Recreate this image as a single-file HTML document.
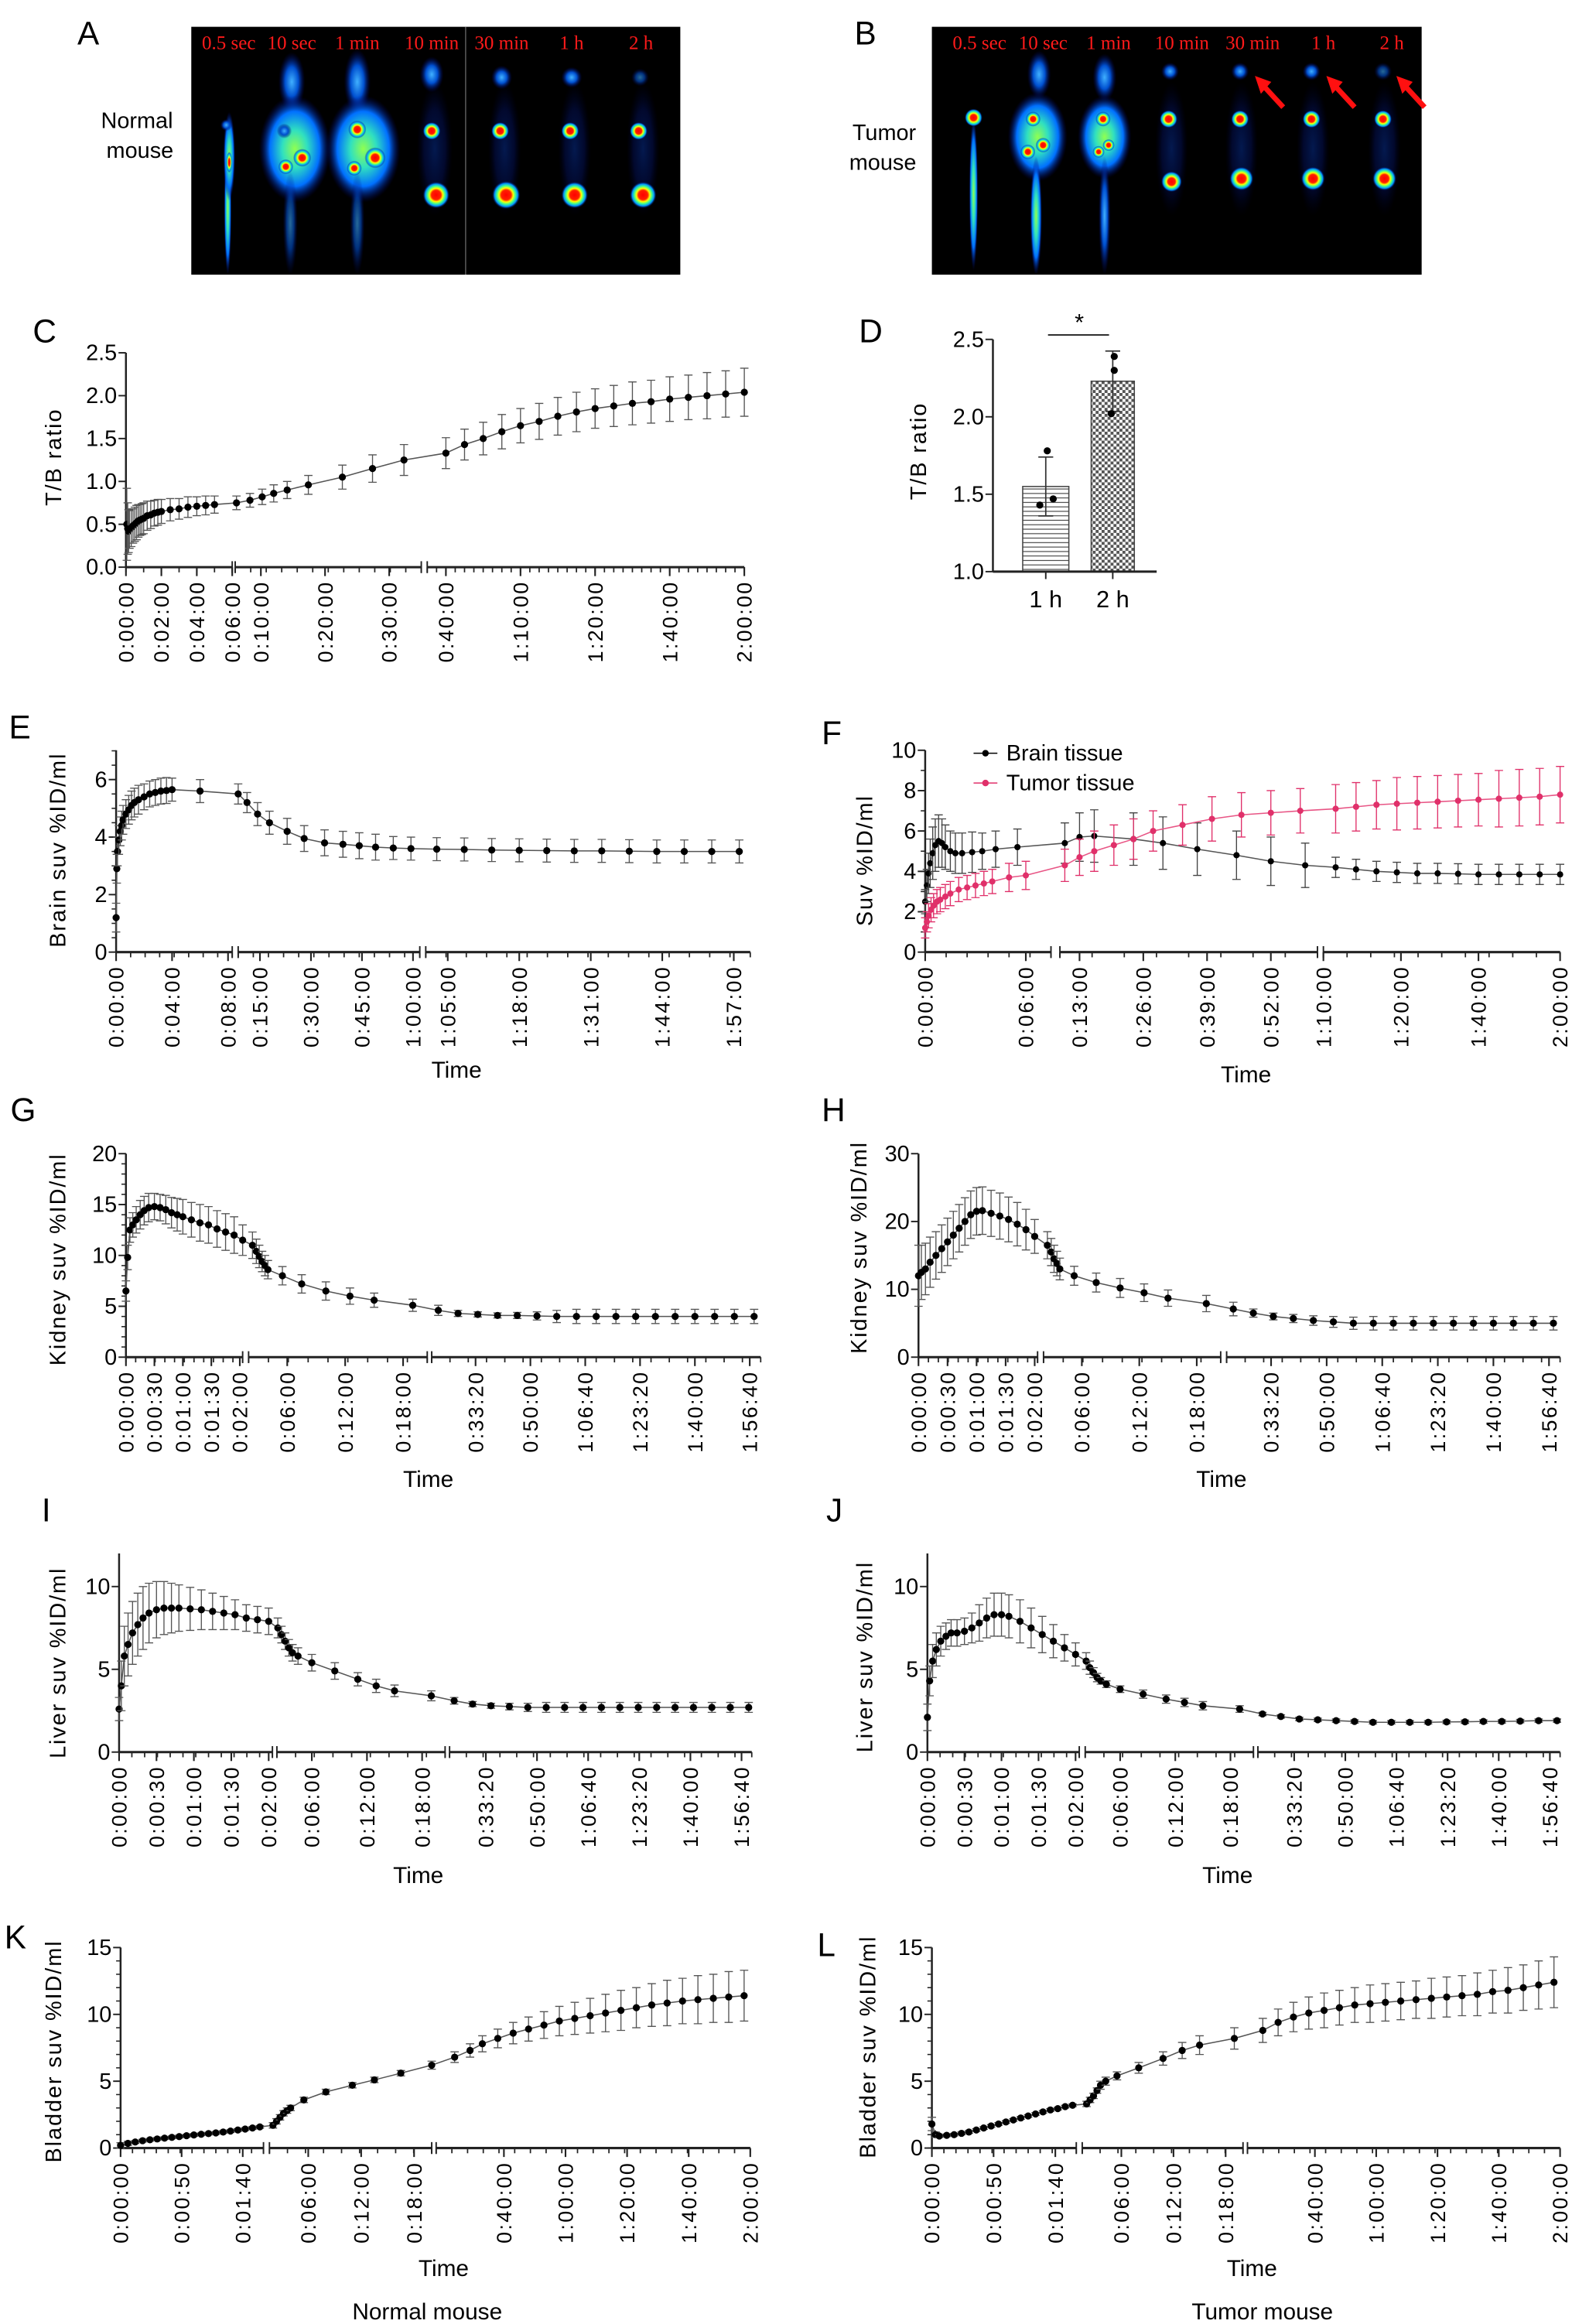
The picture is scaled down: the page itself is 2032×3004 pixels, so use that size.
<!DOCTYPE html>
<html><head><meta charset="utf-8">
<style>
html,body{margin:0;padding:0;background:#fff;}
svg{display:block;}
text{font-family:"Liberation Sans",sans-serif;}
.nar{font-family:"Liberation Sans Narrow","Liberation Sans",sans-serif;}
.red{font-family:"Liberation Serif",serif;fill:#ff1a1a;font-size:13px;}
</style></head>
<body>
<svg id="fig" xmlns="http://www.w3.org/2000/svg" width="2032" height="3004" viewBox="0 0 1056 1561.2" preserveAspectRatio="none">
<defs>
<radialGradient id="hot"><stop offset="0" stop-color="#ff0000"/><stop offset="0.35" stop-color="#ff2000"/><stop offset="0.5" stop-color="#ffff00"/><stop offset="0.65" stop-color="#40ff90"/><stop offset="0.82" stop-color="#0090ff"/><stop offset="1" stop-color="#000050" stop-opacity="0"/></radialGradient>
<radialGradient id="glow"><stop offset="0" stop-color="#40b0ff"/><stop offset="0.5" stop-color="#0050d0"/><stop offset="1" stop-color="#000060" stop-opacity="0"/></radialGradient>
<radialGradient id="faint"><stop offset="0" stop-color="#0838b0" stop-opacity="0.45"/><stop offset="0.6" stop-color="#041880" stop-opacity="0.35"/><stop offset="1" stop-color="#000040" stop-opacity="0"/></radialGradient>
<radialGradient id="body"><stop offset="0" stop-color="#90ff50"/><stop offset="0.35" stop-color="#30e0c0"/><stop offset="0.7" stop-color="#0070ff"/><stop offset="1" stop-color="#000070" stop-opacity="0"/></radialGradient>
<pattern id="hatchH" width="4" height="3" patternUnits="userSpaceOnUse"><rect width="4" height="3" fill="#fff"/><line x1="0" y1="1.5" x2="4" y2="1.5" stroke="#444" stroke-width="0.6"/></pattern>
<pattern id="checker" width="4" height="4" patternUnits="userSpaceOnUse"><rect width="4" height="4" fill="#fff"/><rect width="2" height="2" fill="#555"/><rect x="2" y="2" width="2" height="2" fill="#555"/></pattern>
</defs>

<!-- Panel A -->
<g>
<text x="52" y="30" font-size="22">A</text>
<text x="92" y="86" font-size="15" text-anchor="middle">Normal</text>
<text x="94" y="106" font-size="15" text-anchor="middle">mouse</text>
<rect x="128.5" y="18" width="328.5" height="166.5" fill="#000"/>
<line x1="312.8" y1="18" x2="312.8" y2="184.5" stroke="#777" stroke-width="0.6"/>
<g>
<ellipse cx="153" cy="140" rx="2.5" ry="45" fill="url(#body)"/>
<ellipse cx="154" cy="105" rx="4" ry="30" fill="url(#body)"/>
<ellipse cx="154" cy="109" rx="2" ry="7" fill="url(#hot)"/>
<ellipse cx="152" cy="84" rx="4" ry="4" fill="url(#glow)"/>
<ellipse cx="196" cy="55" rx="9" ry="20" fill="url(#glow)"/>
<ellipse cx="198" cy="100" rx="24" ry="36" fill="url(#body)"/>
<ellipse cx="195" cy="150" rx="5" ry="35" fill="url(#glow)" opacity="0.6"/>
<circle cx="192" cy="112" r="5" fill="url(#hot)"/><circle cx="203" cy="106" r="6" fill="url(#hot)"/><circle cx="191" cy="88" r="5" fill="url(#glow)"/>
<ellipse cx="240" cy="55" rx="9" ry="22" fill="url(#glow)"/>
<ellipse cx="244" cy="100" rx="25" ry="36" fill="url(#body)"/>
<ellipse cx="240" cy="150" rx="5" ry="35" fill="url(#glow)" opacity="0.6"/>
<circle cx="240" cy="87" r="6" fill="url(#hot)"/><circle cx="252" cy="106" r="7" fill="url(#hot)"/><circle cx="238" cy="113" r="5" fill="url(#hot)"/>
<ellipse cx="290" cy="50" rx="8" ry="12" fill="url(#glow)"/><ellipse cx="292" cy="100" rx="12" ry="45" fill="url(#faint)"/>
<circle cx="290" cy="88" r="6" fill="url(#hot)"/><circle cx="293" cy="131" r="9" fill="url(#hot)"/>
<ellipse cx="337" cy="52" rx="7" ry="8" fill="url(#glow)"/><ellipse cx="339" cy="100" rx="11" ry="45" fill="url(#faint)"/>
<circle cx="336" cy="88" r="6" fill="url(#hot)"/><circle cx="340" cy="131" r="9.5" fill="url(#hot)"/>
<ellipse cx="384" cy="52" rx="7" ry="7" fill="url(#glow)"/><ellipse cx="386" cy="100" rx="11" ry="45" fill="url(#faint)"/>
<circle cx="383" cy="88" r="6" fill="url(#hot)"/><circle cx="386" cy="131" r="9" fill="url(#hot)"/>
<ellipse cx="430" cy="52" rx="6" ry="6" fill="url(#glow)" opacity="0.6"/><ellipse cx="432" cy="100" rx="11" ry="45" fill="url(#faint)"/>
<circle cx="429" cy="88" r="6" fill="url(#hot)"/><circle cx="432" cy="131" r="9" fill="url(#hot)"/>
</g>
<g text-anchor="middle">
<text class="red" x="153.7" y="33">0.5 sec</text><text class="red" x="196" y="33">10 sec</text><text class="red" x="240" y="33">1 min</text><text class="red" x="290" y="33">10 min</text><text class="red" x="337" y="33">30 min</text><text class="red" x="384" y="33">1 h</text><text class="red" x="430.6" y="33">2 h</text>
</g>
</g>

<!-- Panel B -->
<g>
<text x="574" y="30" font-size="22">B</text>
<text x="594" y="94" font-size="15" text-anchor="middle">Tumor</text>
<text x="593" y="114" font-size="15" text-anchor="middle">mouse</text>
<rect x="626" y="18" width="329" height="166.5" fill="#000"/>
<g>
<ellipse cx="654" cy="130" rx="3" ry="52" fill="url(#body)"/>
<circle cx="654" cy="79" r="6" fill="url(#hot)"/>
<ellipse cx="698" cy="50" rx="8" ry="16" fill="url(#glow)"/><ellipse cx="697" cy="92" rx="20" ry="30" fill="url(#body)"/>
<ellipse cx="696" cy="145" rx="4" ry="40" fill="url(#body)"/>
<circle cx="694" cy="80" r="5" fill="url(#hot)"/><circle cx="690.5" cy="102" r="5" fill="url(#hot)"/><circle cx="700.7" cy="97.5" r="5" fill="url(#hot)"/>
<ellipse cx="742" cy="52" rx="8" ry="16" fill="url(#glow)"/><ellipse cx="742" cy="92" rx="18" ry="28" fill="url(#body)"/>
<ellipse cx="742" cy="145" rx="4" ry="40" fill="url(#glow)"/>
<circle cx="741" cy="80" r="5" fill="url(#hot)"/><circle cx="744.7" cy="97.5" r="4" fill="url(#hot)"/><circle cx="738" cy="102" r="4" fill="url(#hot)"/>
<ellipse cx="786" cy="48" rx="6" ry="6" fill="url(#glow)"/><ellipse cx="787" cy="100" rx="11" ry="45" fill="url(#faint)"/>
<circle cx="785" cy="80" r="6" fill="url(#hot)"/><circle cx="787" cy="122" r="7" fill="url(#hot)"/>
<ellipse cx="833" cy="48" rx="6" ry="6" fill="url(#glow)"/><ellipse cx="834" cy="100" rx="11" ry="45" fill="url(#faint)"/>
<circle cx="833" cy="80" r="6" fill="url(#hot)"/><circle cx="834" cy="120" r="8" fill="url(#hot)"/>
<ellipse cx="881" cy="48" rx="6" ry="6" fill="url(#glow)"/><ellipse cx="882" cy="100" rx="11" ry="45" fill="url(#faint)"/>
<circle cx="881" cy="80" r="6" fill="url(#hot)"/><circle cx="882" cy="120" r="8" fill="url(#hot)"/>
<ellipse cx="929" cy="48" rx="6" ry="6" fill="url(#glow)" opacity="0.6"/><ellipse cx="930" cy="100" rx="11" ry="45" fill="url(#faint)"/>
<circle cx="929" cy="80" r="6" fill="url(#hot)"/><circle cx="930" cy="120" r="8" fill="url(#hot)"/>
</g>
<g stroke="#ff1010" stroke-width="3.5" fill="#ff1010">
<line x1="850" y1="59" x2="862" y2="72"/><polygon points="843,51 854,55 847,63" stroke="none"/>
<line x1="898" y1="59" x2="910" y2="72"/><polygon points="891,51 902,55 895,63" stroke="none"/>
<line x1="945" y1="59" x2="957" y2="72"/><polygon points="938,51 949,55 942,63" stroke="none"/>
</g>
<g text-anchor="middle">
<text class="red" x="658" y="33">0.5 sec</text><text class="red" x="700.7" y="33">10 sec</text><text class="red" x="744.7" y="33">1 min</text><text class="red" x="794" y="33">10 min</text><text class="red" x="841.5" y="33">30 min</text><text class="red" x="889" y="33">1 h</text><text class="red" x="935" y="33">2 h</text>
</g>
</g>

<!-- Static labels -->
<text x="22" y="230" font-size="22">C</text>
<text x="577" y="230" font-size="22">D</text>
<text x="6" y="496" font-size="22">E</text>
<text x="552" y="500" font-size="22">F</text>
<text x="7" y="753" font-size="22">G</text>
<text x="552" y="753" font-size="22">H</text>
<text x="28" y="1022" font-size="22">I</text>
<text x="555" y="1022" font-size="22">J</text>
<text x="3" y="1309" font-size="22">K</text>
<text x="549" y="1314" font-size="22">L</text>
<text x="287" y="1558" font-size="15.5" text-anchor="middle" class="nar">Normal mouse</text>
<text x="848" y="1558" font-size="15.5" text-anchor="middle" class="nar">Tumor mouse</text>
</svg>

<script>
// ---------- DATA ----------
// C: T/B ratio
const cTimes=[0.05,0.1,0.15,0.2,0.3,0.4,0.5,0.6,0.7,0.8,0.9,1.0,1.2,1.4,1.6,1.8,2.0,2.5,3.0,3.5,4.0,4.5,5.0,6.2,8.3,10.2,12,14.1,17.4,22.7,27.4,32.3,40,45,50,55,60,65,70,75,80,85,90,95,100,105,110,115,120];
const cValues=[0.5,0.45,0.42,0.44,0.46,0.48,0.5,0.52,0.54,0.55,0.56,0.57,0.6,0.61,0.63,0.64,0.65,0.67,0.68,0.7,0.71,0.72,0.73,0.75,0.78,0.82,0.86,0.9,0.96,1.05,1.15,1.25,1.33,1.43,1.5,1.58,1.65,1.7,1.76,1.81,1.85,1.88,1.91,1.93,1.96,1.98,2.0,2.02,2.04];
const cErrors=[0.42,0.3,0.25,0.22,0.22,0.2,0.2,0.2,0.19,0.18,0.18,0.18,0.17,0.16,0.15,0.15,0.14,0.13,0.12,0.12,0.11,0.11,0.1,0.08,0.08,0.09,0.1,0.1,0.11,0.14,0.16,0.18,0.18,0.18,0.19,0.2,0.2,0.21,0.22,0.23,0.23,0.24,0.25,0.25,0.26,0.26,0.27,0.27,0.28];
// D: bar chart
const dCategories=['1 h','2 h'];
const dMeans=[1.55,2.23];
const dErrors=[0.19,0.195];
const dPoints1h=[1.78,1.43,1.47];
const dPoints2h=[2.39,2.30,2.02];
// E: brain normal
const eTimes=[0,0.05,0.1,0.2,0.3,0.4,0.5,0.7,0.9,1.1,1.3,1.6,2.0,2.4,2.8,3.2,3.6,4.0,6.0,8.6,11.2,14.3,17.8,23,28,34,39.4,44.2,49,54.2,59.4,63,68,73,78,83,88,93,98,103,108,113,118];
const eValues=[1.2,2.9,3.5,3.9,4.2,4.4,4.6,4.8,4.95,5.1,5.2,5.3,5.4,5.5,5.55,5.6,5.62,5.65,5.6,5.5,5.2,4.8,4.5,4.2,3.95,3.8,3.75,3.7,3.65,3.62,3.6,3.58,3.57,3.55,3.54,3.53,3.52,3.52,3.51,3.5,3.5,3.5,3.5];
const eErrors=[0.5,0.5,0.5,0.5,0.5,0.5,0.5,0.5,0.5,0.5,0.5,0.5,0.45,0.45,0.45,0.45,0.45,0.4,0.4,0.35,0.35,0.4,0.4,0.45,0.45,0.45,0.45,0.45,0.45,0.4,0.4,0.4,0.4,0.4,0.4,0.4,0.4,0.4,0.4,0.4,0.4,0.4,0.4];
// F: brain vs tumor (tumor mouse)
const fBrainTimes=[0,0.1,0.2,0.3,0.45,0.6,0.8,1.0,1.2,1.5,1.8,2.2,2.8,3.4,4.2,5.5,10,13,16,24,30,37,45,52,59,65,70,75,80,85,90,95,100,105,110,115,120];
const fBrainValues=[2.5,3.3,3.9,4.4,4.9,5.3,5.5,5.4,5.2,5.0,4.9,4.9,4.95,5.0,5.1,5.2,5.4,5.7,5.75,5.6,5.4,5.1,4.8,4.5,4.3,4.2,4.1,4.0,3.95,3.9,3.9,3.88,3.85,3.85,3.85,3.85,3.85];
const fBrainErrors=[0.6,0.8,1.0,1.2,1.3,1.3,1.3,1.2,1.1,1.0,1.0,1.0,1.0,0.9,0.9,0.9,1.0,1.2,1.3,1.3,1.3,1.3,1.2,1.2,1.1,0.5,0.5,0.5,0.5,0.5,0.5,0.5,0.5,0.5,0.5,0.5,0.5];
const fTumorTimes=[0,0.1,0.2,0.35,0.5,0.7,0.9,1.2,1.5,2.0,2.5,3.0,3.5,4.0,5.0,6.0,10,13,16,20,24,28,34,40,46,52,58,65,70,75,80,85,90,95,100,105,110,115,120];
const fTumorValues=[1.2,1.5,1.8,2.1,2.3,2.5,2.6,2.75,2.9,3.1,3.2,3.3,3.4,3.5,3.7,3.8,4.3,4.7,5.0,5.3,5.6,6.0,6.3,6.6,6.8,6.9,7.0,7.1,7.2,7.3,7.35,7.4,7.45,7.5,7.55,7.6,7.65,7.7,7.8];
const fTumorErrors=[0.5,0.5,0.6,0.6,0.6,0.6,0.6,0.6,0.6,0.6,0.6,0.6,0.6,0.6,0.7,0.7,0.8,0.9,1.0,1.0,1.0,1.0,1.0,1.1,1.1,1.1,1.1,1.2,1.2,1.2,1.3,1.3,1.3,1.3,1.3,1.4,1.4,1.4,1.4];
// G: kidney normal
const gTimes=[0,0.03,0.07,0.12,0.18,0.25,0.32,0.4,0.5,0.6,0.7,0.8,0.9,1.0,1.15,1.3,1.45,1.6,1.75,1.9,2.05,2.4,2.8,3.1,3.4,3.7,4.0,5.5,7.5,10,12.5,15,19,22,28,34,40,46,52,58,64,70,76,82,88,94,100,106,112,118];
const gValues=[6.5,9.8,12.5,13.0,13.5,14.0,14.4,14.7,14.8,14.7,14.5,14.2,14.0,13.8,13.5,13.2,13.0,12.6,12.3,12.0,11.5,11.0,10.4,9.9,9.4,9.0,8.6,8.0,7.2,6.5,6.0,5.6,5.1,4.6,4.3,4.2,4.1,4.1,4.05,4.0,4.0,4.0,4.0,4.0,4.0,4.0,4.0,4.0,4.0,4.0];
const gErrors=[1.0,1.2,1.2,1.2,1.3,1.4,1.4,1.4,1.3,1.3,1.4,1.5,1.6,1.7,1.7,1.8,1.8,1.8,1.8,1.8,1.5,1.3,1.2,1.1,1.0,1.0,0.9,0.9,0.9,0.9,0.8,0.7,0.6,0.5,0.3,0.25,0.25,0.3,0.4,0.6,0.7,0.7,0.7,0.7,0.7,0.7,0.7,0.7,0.7,0.7];
// H: kidney tumor
const hTimes=[0,0.05,0.12,0.2,0.3,0.4,0.5,0.6,0.7,0.8,0.9,1.0,1.1,1.25,1.4,1.55,1.7,1.85,2.0,2.4,2.8,3.1,3.4,3.7,5.2,7.5,10,12.5,15,19,22,28,34,40,46,52,58,64,70,76,82,88,94,100,106,112,118];
const hValues=[12,12.5,13,14,15,16,17,18,19,20,21,21.5,21.6,21.2,20.8,20.3,19.6,18.8,17.8,16.5,15.5,14.5,13.8,13.0,12.0,11.0,10.2,9.5,8.7,7.9,7.1,6.5,6.0,5.7,5.4,5.2,5.0,5.0,5.0,5.0,5.0,5.0,5.0,5.0,5.0,5.0,5.0];
const hErrors=[4.5,4.0,3.8,3.7,3.5,3.5,3.5,3.5,3.5,3.5,3.5,3.5,3.5,3.4,3.4,3.3,3.2,3.0,2.5,2,2,2,1.8,1.6,1.4,1.4,1.4,1.3,1.2,1.2,1,0.6,0.5,0.6,0.7,0.8,0.9,1,1,1,1,1,1,1,1,1,1];
// I: liver normal
const iTimes=[0,0.03,0.07,0.12,0.18,0.25,0.32,0.4,0.5,0.6,0.7,0.8,0.95,1.1,1.25,1.4,1.55,1.7,1.85,2.0,2.3,2.7,3.1,3.5,3.9,4.5,6,8.5,11,13,15,19,23,29,35,41,47,53,59,65,71,77,83,89,95,101,107,113,119];
const iValues=[2.6,4.0,5.8,6.5,7.2,7.7,8.1,8.4,8.6,8.7,8.7,8.7,8.65,8.6,8.5,8.4,8.3,8.1,8.0,7.9,7.5,7.1,6.7,6.3,6.0,5.8,5.4,4.9,4.4,4.0,3.7,3.4,3.1,2.9,2.8,2.75,2.7,2.7,2.7,2.7,2.7,2.7,2.7,2.7,2.7,2.7,2.7,2.7,2.7];
const iErrors=[0.7,1.5,1.8,1.9,1.9,1.9,1.9,1.8,1.7,1.6,1.5,1.4,1.3,1.2,1.1,1.0,0.9,0.8,0.8,0.8,0.6,0.5,0.5,0.5,0.5,0.5,0.5,0.5,0.4,0.4,0.35,0.3,0.2,0.15,0.15,0.2,0.25,0.3,0.3,0.3,0.3,0.3,0.3,0.3,0.3,0.3,0.3,0.3,0.3];
// J: liver tumor
const jTimes=[0,0.03,0.07,0.12,0.18,0.25,0.32,0.4,0.5,0.6,0.7,0.8,0.9,1.0,1.1,1.25,1.4,1.55,1.7,1.85,2.0,2.3,2.7,3.1,3.5,3.9,4.5,6,8.5,11,13,15,19,23,29,35,41,47,53,59,65,71,77,83,89,95,101,107,113,119];
const jValues=[2.1,4.3,5.5,6.2,6.7,7.0,7.2,7.2,7.3,7.5,7.8,8.1,8.3,8.3,8.2,7.9,7.5,7.1,6.7,6.3,5.9,5.5,5.1,4.8,4.5,4.3,4.1,3.8,3.5,3.2,3.0,2.8,2.6,2.3,2.15,2.0,1.95,1.9,1.85,1.8,1.8,1.8,1.8,1.82,1.83,1.85,1.85,1.87,1.9,1.9];
const jErrors=[0.8,0.9,1.0,1.0,0.9,0.8,0.8,0.8,0.8,0.9,1.1,1.2,1.3,1.3,1.3,1.3,1.2,1.1,1.0,0.8,0.7,0.5,0.4,0.3,0.25,0.2,0.2,0.2,0.25,0.25,0.25,0.25,0.2,0.1,0.1,0.1,0.1,0.1,0.1,0.1,0.1,0.1,0.1,0.1,0.1,0.1,0.1,0.1,0.1,0.1];
// K: bladder normal
const kTimes=[0,0.1,0.2,0.3,0.4,0.5,0.6,0.7,0.8,0.9,1.0,1.1,1.2,1.3,1.4,1.5,1.6,1.7,1.8,1.9,2.0,2.4,2.8,3.2,3.6,4.0,5.5,8.0,11.0,13.5,16.5,20,24,29,33,38,43,48,53,58,63,68,73,78,83,88,93,98,103,108,113,118];
const kValues=[0.2,0.35,0.45,0.55,0.62,0.68,0.74,0.8,0.86,0.92,0.98,1.03,1.08,1.13,1.2,1.27,1.35,1.42,1.5,1.58,1.7,2.0,2.3,2.6,2.8,3.0,3.6,4.2,4.7,5.1,5.6,6.2,6.8,7.3,7.8,8.2,8.6,8.9,9.2,9.5,9.7,9.9,10.1,10.3,10.5,10.7,10.85,11.0,11.1,11.2,11.3,11.4];
const kErrors=[0.2,0.15,0.1,0.1,0.1,0.1,0.1,0.1,0.1,0.1,0.1,0.1,0.1,0.1,0.1,0.1,0.1,0.1,0.1,0.1,0.2,0.2,0.2,0.2,0.2,0.2,0.2,0.2,0.2,0.2,0.2,0.3,0.4,0.5,0.6,0.7,0.8,0.9,1.0,1.1,1.2,1.3,1.4,1.5,1.5,1.6,1.7,1.7,1.8,1.8,1.9,1.9];
// L: bladder tumor
const lTimes=[0,0.05,0.1,0.2,0.3,0.4,0.5,0.6,0.7,0.8,0.9,1.0,1.1,1.2,1.3,1.4,1.5,1.6,1.7,1.8,1.9,2.0,2.4,2.8,3.2,3.6,4.2,5.5,8,10.8,13,15,19,23,28,33,38,43,48,53,58,63,68,73,78,83,88,93,98,103,108,113,118];
const lValues=[1.8,1.0,0.9,0.95,1.0,1.1,1.2,1.35,1.5,1.65,1.8,1.95,2.1,2.25,2.4,2.55,2.7,2.85,2.95,3.1,3.2,3.3,3.6,3.9,4.3,4.7,5.0,5.4,6.0,6.7,7.3,7.7,8.2,8.8,9.4,9.8,10.1,10.3,10.5,10.7,10.8,10.9,11.0,11.1,11.2,11.3,11.4,11.5,11.7,11.8,12.0,12.2,12.4];
const lErrors=[0.5,0.2,0.1,0.1,0.1,0.1,0.1,0.1,0.1,0.1,0.1,0.1,0.1,0.1,0.1,0.1,0.1,0.1,0.1,0.1,0.1,0.2,0.2,0.2,0.2,0.3,0.3,0.3,0.4,0.5,0.6,0.7,0.8,0.9,1.0,1.1,1.2,1.3,1.3,1.3,1.4,1.4,1.4,1.4,1.5,1.5,1.5,1.6,1.6,1.7,1.7,1.8,1.9];
// tick label arrays
const cTickTimes=[0,2,4,6,10,20,30,40,60,80,100,120];
const cTickLabels=['0:00:00','0:02:00','0:04:00','0:06:00','0:10:00','0:20:00','0:30:00','0:40:00','1:10:00','1:20:00','1:40:00','2:00:00'];
const eTickTimes=[0,4,8,15,30,45,60,65,78,91,104,117];
const eTickLabels=['0:00:00','0:04:00','0:08:00','0:15:00','0:30:00','0:45:00','1:00:00','1:05:00','1:18:00','1:31:00','1:44:00','1:57:00'];
const fTickTimes=[0,6,13,26,39,52,62,81,100,120];
const fTickLabels=['0:00:00','0:06:00','0:13:00','0:26:00','0:39:00','0:52:00','1:10:00','1:20:00','1:40:00','2:00:00'];
const gTickTimes=[0,0.5,1,1.5,2,6,12,18,33.33,50,66.67,83.33,100,116.67];
const gTickLabels=['0:00:00','0:00:30','0:01:00','0:01:30','0:02:00','0:06:00','0:12:00','0:18:00','0:33:20','0:50:00','1:06:40','1:23:20','1:40:00','1:56:40'];
const kTickTimes=[0,0.833,1.667,6,12,18,40,60,80,100,120];
const kTickLabels=['0:00:00','0:00:50','0:01:40','0:06:00','0:12:00','0:18:00','0:40:00','1:00:00','1:20:00','1:40:00','2:00:00'];

// ---------- DRAWING ----------
const svg=document.getElementById('fig');
const NS='http://www.w3.org/2000/svg';
function mk(tag,attrs,parent){const e=document.createElementNS(NS,tag);for(const k in attrs)e.setAttribute(k,attrs[k]);(parent||svg).appendChild(e);return e;}
function makeX(segs){return function(t){for(const s of segs){if(t<s[0])return s[2];if(t<=s[1])return s[2]+(t-s[0])/(s[1]-s[0])*(s[3]-s[2]);}return segs[segs.length-1][3];};}
function makeY(c){return v=>c.yb-(v-c.ymin)/(c.ymax-c.ymin)*(c.yb-c.yt);}

function drawChart(c){
  const g=mk('g',{});
  
  
  const X=makeX(c.segs), Y=makeY(c);
  const ya=mk('line',{x1:c.ax,y1:c.yb,x2:c.ax,y2:c.ytop,stroke:'#222','stroke-width':1.3},g);
  
  
  for(let i=0;i<c.yticks.length;i++){
    const v=c.yticks[i], y=Y(v);
    const t=mk('line',{x1:c.ax-5,y1:y,x2:c.ax,y2:y,stroke:'#222','stroke-width':1},g);
    
    
    const lb=mk('text',{x:c.ax-6,y:y+5,'font-size':15,'text-anchor':'end',class:'nar'},g);
    
    
    lb.textContent=c.ylabels[i];
  }
  if(c.yminor){for(let v=c.ymin;v<=c.ytopVal+1e-9;v+=c.yminor){const y=Y(v);const m=mk('line',{x1:c.ax-3,y1:y,x2:c.ax,y2:y,stroke:'#222','stroke-width':0.8},g);}}
  c.segs.forEach((s,i)=>{
    const l=mk('line',{x1:s[2],y1:c.yb,x2:s[3],y2:c.yb,stroke:'#222','stroke-width':1.6},g);
    
    
    [s[2],s[3]].forEach((px,k)=>{if((k===0&&i>0)||(k===1&&i<c.segs.length-1)){const b=mk('line',{x1:px,y1:c.yb-4,x2:px,y2:c.yb+4,stroke:'#222','stroke-width':1},g);}});
    const n=c.minor[i];
    for(let k=0;k<=n;k++){const px=s[2]+(s[3]-s[2])*k/n;const m=mk('line',{x1:px,y1:c.yb,x2:px,y2:c.yb+3.5,stroke:'#222','stroke-width':0.9},g);}
  });
  for(let i=0;i<c.xtickTimes.length;i++){
    const px=X(c.xtickTimes[i]);
    const t=mk('line',{x1:px,y1:c.yb,x2:px,y2:c.yb+6,stroke:'#222','stroke-width':1.1},g);
    
    
    const lb=mk('text',{transform:`translate(${px+5},${c.yb+9}) rotate(-90)`,'font-size':14,'text-anchor':'end','letter-spacing':'1.2'},g);
    
    
    lb.textContent=c.xtickLabels[i];
  }
  const yt=mk('text',{transform:`translate(${c.ytx},${c.yty}) rotate(-90)`,'font-size':15,'text-anchor':'middle','letter-spacing':'1'},g);
  
  
  yt.textContent=c.ytitle;
  if(c.xtitle){const xt=mk('text',{x:c.xtx,y:c.xty,'font-size':15.5,'text-anchor':'middle',class:'nar'},g);xt.textContent='Time';}
  c.series.forEach(s=>{
    const sg=mk('g',{},g);
    
    
    const pts=s.t.map((t,i)=>X(t).toFixed(2)+','+Y(s.v[i]).toFixed(2)).join(' ');
    const pl=mk('polyline',{points:pts,fill:'none',stroke:s.line,'stroke-width':0.8},sg);
    
    
    s.t.forEach((t,i)=>{
      const x=X(t), y1=Y(s.v[i]+s.e[i]), y2=Y(Math.max(c.ymin,s.v[i]-s.e[i]));
      const eb=mk('path',{d:`M${x-2.8},${y1}H${x+2.8}M${x},${y1}V${y2}M${x-2.8},${y2}H${x+2.8}`,stroke:s.err,'stroke-width':0.7,fill:'none'},sg);
      
      
      const p=mk('circle',{cx:x,cy:Y(s.v[i]),r:s.r||2.4,fill:s.color},sg);
      
      
    });
  });
}
const BLK={color:'#000',line:'#555',err:'#555'};
function ser(name,t,v,e,st){return Object.assign({name,t,v,e},st);}

drawChart({name:'panel-c-tb-ratio-chart',ax:84.6,yb:381,yt:237,ytop:237,ymin:0,ymax:2.5,ytopVal:2.5,yticks:[0,0.5,1,1.5,2,2.5],ylabels:['0.0','0.5','1.0','1.5','2.0','2.5'],
 segs:[[0,6,84.6,156],[6,35,158,283],[35,120,287,500]],minor:[6,12,34],xtickTimes:cTickTimes,xtickLabels:cTickLabels,ytitle:'T/B ratio',ytx:41,yty:307,
 series:[ser('tb-ratio-series',cTimes,cValues,cErrors,BLK)]});
drawChart({name:'panel-e-brain-normal-chart',ax:78,yb:639.6,yt:523.7,ytop:504,ymin:0,ymax:6,ytopVal:7,yminor:0.5,yticks:[0,2,4,6],ylabels:['0','2','4','6'],
 segs:[[0,8.3,78,156],[8.6,62,160,282],[61,120,286,504]],minor:[8,12,16],xtickTimes:eTickTimes,xtickLabels:eTickLabels,ytitle:'Brain suv %ID/ml',ytx:44,yty:571,xtitle:true,xtx:306.7,xty:724,
 series:[ser('brain-normal-series',eTimes,eValues,eErrors,BLK)]});
drawChart({name:'panel-f-brain-tumor-chart',ax:621.5,yb:639.6,yt:504,ytop:504,ymin:0,ymax:10,ytopVal:10,yminor:1,yticks:[0,2,4,6,8,10],ylabels:['0','2','4','6','8','10'],
 segs:[[0,7.5,621.5,706],[9,61.5,712,885],[62,120,889,1048]],minor:[6,8,10],xtickTimes:fTickTimes,xtickLabels:fTickLabels,ytitle:'Suv %ID/ml',ytx:586,yty:578,xtitle:true,xtx:837,xty:727,
 series:[ser('brain-tissue-series',fBrainTimes,fBrainValues,fBrainErrors,{color:'#000',line:'#555',err:'#444',r:2.1}),
         ser('tumor-tissue-series',fTumorTimes,fTumorValues,fTumorErrors,{color:'#e0306a',line:'#e85585',err:'#e0306a',r:2.1})]});
drawChart({name:'panel-g-kidney-normal-chart',ax:84.6,yb:911.7,yt:775,ytop:775,ymin:0,ymax:20,ytopVal:20,yminor:1,yticks:[0,5,10,15,20],ylabels:['0','5','10','15','20'],
 segs:[[0,2.05,84.6,163],[2.0,20.5,167,287],[20,120,290,511]],minor:[12,9,18],xtickTimes:gTickTimes,xtickLabels:gTickLabels,ytitle:'Kidney suv %ID/ml',ytx:44,yty:846,xtitle:true,xtx:287.7,xty:999,
 series:[ser('kidney-normal-series',gTimes,gValues,gErrors,BLK)]});
drawChart({name:'panel-h-kidney-tumor-chart',ax:617,yb:911.7,yt:775,ytop:775,ymin:0,ymax:30,ytopVal:30,yticks:[0,10,20,30],ylabels:['0','10','20','30'],
 segs:[[0,2.05,617,697],[2.0,20.5,701,820],[20,120,824,1048]],minor:[12,9,18],xtickTimes:gTickTimes,xtickLabels:gTickLabels,ytitle:'Kidney suv %ID/ml',ytx:582,yty:838,xtitle:true,xtx:820.5,xty:999,
 series:[ser('kidney-tumor-series',hTimes,hValues,hErrors,BLK)]});
drawChart({name:'panel-i-liver-normal-chart',ax:80,yb:1177,yt:1065.8,ytop:1043.6,ymin:0,ymax:10,ytopVal:12,yticks:[0,5,10],ylabels:['0','5','10'],
 segs:[[0,2.05,80,183],[2.2,20.5,186,299],[21.5,120,302,505]],minor:[12,9,18],xtickTimes:gTickTimes,xtickLabels:gTickLabels,ytitle:'Liver suv %ID/ml',ytx:44,yty:1117,xtitle:true,xtx:281,xty:1265,
 series:[ser('liver-normal-series',iTimes,iValues,iErrors,BLK)]});
drawChart({name:'panel-j-liver-tumor-chart',ax:623,yb:1177,yt:1065.8,ytop:1043.6,ymin:0,ymax:10,ytopVal:12,yticks:[0,5,10],ylabels:['0','5','10'],
 segs:[[0,2.05,623,725],[2.2,20.5,729,842],[21.5,120,845,1048]],minor:[12,9,18],xtickTimes:gTickTimes,xtickLabels:gTickLabels,ytitle:'Liver suv %ID/ml',ytx:586,yty:1113,xtitle:true,xtx:824.6,xty:1265,
 series:[ser('liver-tumor-series',jTimes,jValues,jErrors,BLK)]});
drawChart({name:'panel-k-bladder-normal-chart',ax:81,yb:1443,yt:1308.3,ytop:1308.3,ymin:0,ymax:15,ytopVal:15,yminor:1,yticks:[0,5,10,15],ylabels:['0','5','10','15'],
 segs:[[0,1.95,81,177],[1.6,20,181,290],[18,120,293,504]],minor:[12,9,20],xtickTimes:kTickTimes,xtickLabels:kTickLabels,ytitle:'Bladder suv %ID/ml',ytx:41,yty:1378,xtitle:true,xtx:298,xty:1529,
 series:[ser('bladder-normal-series',kTimes,kValues,kErrors,BLK)]});
drawChart({name:'panel-l-bladder-tumor-chart',ax:626,yb:1443,yt:1308.3,ytop:1308.3,ymin:0,ymax:15,ytopVal:15,yminor:1,yticks:[0,5,10,15],ylabels:['0','5','10','15'],
 segs:[[0,1.95,626,723],[1.5,20,727,835],[18,120,838,1048]],minor:[12,9,20],xtickTimes:kTickTimes,xtickLabels:kTickLabels,ytitle:'Bladder suv %ID/ml',ytx:588,yty:1375,xtitle:true,xtx:841,xty:1529,
 series:[ser('bladder-tumor-series',lTimes,lValues,lErrors,BLK)]});

// F legend
(function(){
  const g=mk('g',{});
  
  
  const items=[['Brain tissue','#000',506],['Tumor tissue','#e0306a',526]];
  items.forEach(it=>{
    const e=mk('g',{},g);
    
    
    mk('line',{x1:654,y1:it[2],x2:670,y2:it[2],stroke:it[1],'stroke-width':0.8},e);
    mk('circle',{cx:662,cy:it[2],r:2.2,fill:it[1]},e);
    const t=mk('text',{x:676,y:it[2]+5,'font-size':15,class:'nar'},e);
    t.textContent=it[0];
  });
})();

// D bar chart
(function(){
  const c={ax:667,yb:384,yt:228,ymin:1.0,ymax:2.5};
  const Y=makeY(c);
  const barX=[687,733], barW=[31,29], jitter=[[1,-4,5],[1,1,-1]];
  const g=mk('g',{});
  
  
  const ya=mk('line',{x1:c.ax,y1:c.yb,x2:c.ax,y2:c.yt,stroke:'#222','stroke-width':1.3},g);
  
  
  [1.0,1.5,2.0,2.5].forEach(v=>{
    const y=Y(v);
    const t=mk('line',{x1:c.ax-5,y1:y,x2:c.ax,y2:y,stroke:'#222','stroke-width':1},g);
    
    
    const lb=mk('text',{x:c.ax-6,y:y+5,'font-size':15,'text-anchor':'end',class:'nar'},g);
    
    
    lb.textContent=v.toFixed(1);
  });
  const pts=[dPoints1h,dPoints2h];
  dCategories.forEach((cat,i)=>{
    const x=barX[i], w=barW[i], cx=x+w/2, y=Y(dMeans[i]);
    const b=mk('rect',{x:x,y:y,width:w,height:c.yb-y,fill:i===0?'url(#hatchH)':'url(#checker)',stroke:'#444','stroke-width':0.8},g);
    
    
    const y1=Y(dMeans[i]+dErrors[i]), y2=Y(dMeans[i]-dErrors[i]);
    const eb=mk('path',{d:`M${cx-5},${y1}H${cx+5}M${cx},${y1}V${y2}M${cx-5},${y2}H${cx+5}`,stroke:'#333','stroke-width':0.9,fill:'none'},g);
    
    
    pts[i].forEach((v,k)=>{
      const p=mk('circle',{cx:cx+jitter[i][k],cy:Y(v),r:2.4,fill:'#000'},g);
      
      
    });
    const lb=mk('text',{x:cx,y:c.yb+24,'font-size':16,'text-anchor':'middle',class:'nar'},g);
    
    
    lb.textContent=cat;
    const tk=mk('line',{x1:cx,y1:c.yb,x2:cx,y2:c.yb+5,stroke:'#222','stroke-width':1},g);
    
    
  });
  const xa=mk('line',{x1:c.ax,y1:c.yb,x2:777,y2:c.yb,stroke:'#222','stroke-width':1.6},g);
  
  
  const sig=mk('line',{x1:704,y1:225,x2:745,y2:225,stroke:'#222','stroke-width':1},g);
  
  
  const ast=mk('text',{x:725,y:222,'font-size':16,'text-anchor':'middle'},g);
  
  
  ast.textContent='*';
  const yt=mk('text',{transform:'translate(622,303) rotate(-90)','font-size':15,'text-anchor':'middle','letter-spacing':'1'},g);
  
  
  yt.textContent='T/B ratio';
})();
</script>
</body></html>
